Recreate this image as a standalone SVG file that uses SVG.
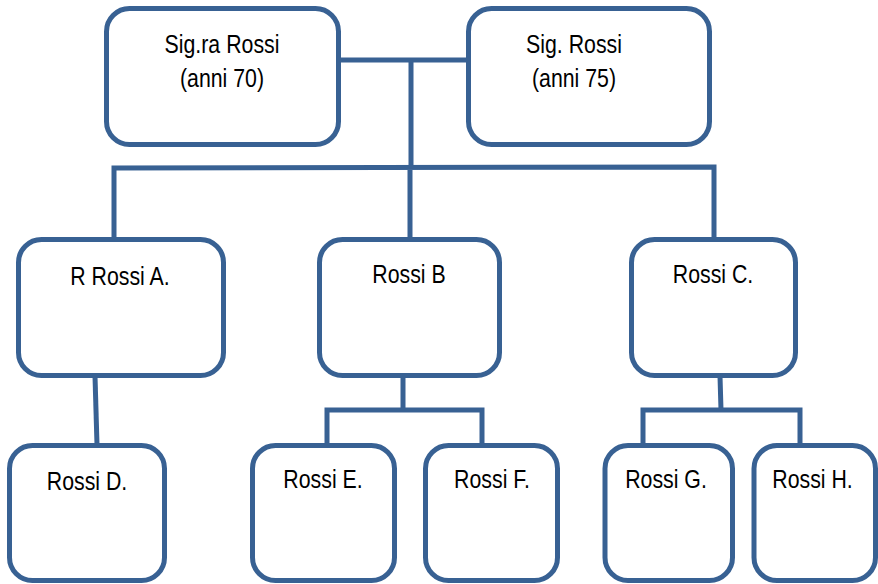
<svg xmlns="http://www.w3.org/2000/svg" width="878" height="584" viewBox="0 0 878 584">
<style>
.box{fill:#fff;stroke:#386193;stroke-width:5}
.ln{fill:none;stroke:#386193;stroke-width:5;stroke-linejoin:miter}
.t{font-family:"Liberation Sans",Arial,sans-serif;font-size:26px;fill:#000;text-anchor:middle}
</style>
<rect width="878" height="584" fill="#fff"/>
<g id="connectors">
<path class="ln" d="M338 60 H468 M411 60 V168"/>
<path class="ln" d="M114 239 V168 L714 167 V239 M410 168 V239"/>
<path class="ln" d="M95 376 L97 445"/>
<path class="ln" d="M403 376 V410 M327 445 V410 H482 V445"/>
<path class="ln" d="M720 376 L721 410 M643 445 V410 H800 V445"/>
</g>
<g id="sigra">
<rect class="box" x="106.5" y="8.5" width="232" height="136" rx="23"/>
<text class="t" transform="translate(222,53) scale(0.82,1)">Sig.ra Rossi</text>
<text class="t" transform="translate(222,87) scale(0.82,1)">(anni 70)</text>
</g>
<g id="sig">
<rect class="box" x="468.5" y="8.5" width="241" height="136" rx="23"/>
<text class="t" transform="translate(574,53) scale(0.82,1)">Sig. Rossi</text>
<text class="t" transform="translate(574,87) scale(0.82,1)">(anni 75)</text>
</g>
<g id="a">
<rect class="box" x="18.5" y="239.5" width="205" height="136" rx="23"/>
<text class="t" transform="translate(120,285) scale(0.82,1)">R Rossi A.</text>
</g>
<g id="b">
<rect class="box" x="319.5" y="239.5" width="180" height="136" rx="23"/>
<text class="t" transform="translate(409,283) scale(0.82,1)">Rossi B</text>
</g>
<g id="c">
<rect class="box" x="631.5" y="239.5" width="164" height="136" rx="23"/>
<text class="t" transform="translate(713,283) scale(0.82,1)">Rossi C.</text>
</g>
<g id="d">
<rect class="box" x="9.5" y="445.5" width="155" height="135" rx="23"/>
<text class="t" transform="translate(87,490) scale(0.82,1)">Rossi D.</text>
</g>
<g id="e">
<rect class="box" x="252.5" y="445.5" width="142" height="135" rx="23"/>
<text class="t" transform="translate(323,488) scale(0.82,1)">Rossi E.</text>
</g>
<g id="f">
<rect class="box" x="425.5" y="445.5" width="132" height="135" rx="23"/>
<text class="t" transform="translate(492,488) scale(0.82,1)">Rossi F.</text>
</g>
<g id="g">
<rect class="box" x="605" y="445.5" width="127.5" height="135" rx="23"/>
<text class="t" transform="translate(666,488) scale(0.82,1)">Rossi G.</text>
</g>
<g id="h">
<rect class="box" x="754" y="445.5" width="121.5" height="135" rx="23"/>
<text class="t" transform="translate(812.5,488) scale(0.82,1)">Rossi H.</text>
</g>
</svg>
